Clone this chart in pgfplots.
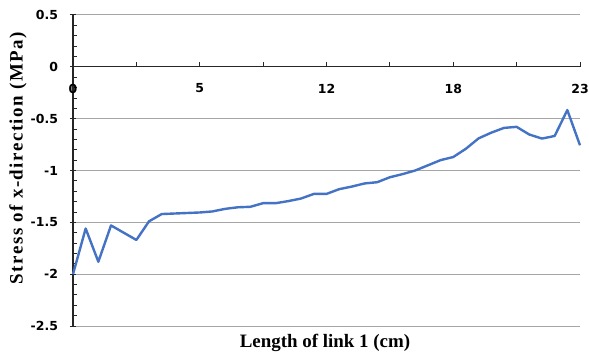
\documentclass[border=0pt]{standalone}
\usepackage{fontspec}
\setmainfont{Liberation Serif}
\newfontfamily\tickfont{DejaVu Sans}
\newfontfamily\spacedserif[LetterSpace=8]{Liberation Serif}
\usepackage{pgfplots}
\pgfplotsset{compat=1.18}

\definecolor{serieblue}{HTML}{4472C4}
\definecolor{gridgray}{HTML}{A6A6A6}
\definecolor{axisdark}{HTML}{262626}

% stress along link 1, sampled at 41 equally spaced stations
\pgfplotstableread{
i   s
0   -2.00
1   -1.56
2   -1.88
3   -1.53
4   -1.60
5   -1.67
6   -1.49
7   -1.42
8   -1.415
9   -1.41
10  -1.405
11  -1.395
12  -1.37
13  -1.355
14  -1.35
15  -1.315
16  -1.315
17  -1.295
18  -1.27
19  -1.226
20  -1.226
21  -1.18
22  -1.155
23  -1.125
24  -1.113
25  -1.065
26  -1.035
27  -1.00
28  -0.95
29  -0.90
30  -0.87
31  -0.79
32  -0.69
33  -0.635
34  -0.589
35  -0.579
36  -0.653
37  -0.692
38  -0.667
39  -0.417
40  -0.757
}\stressdata

\begin{document}
\begin{tikzpicture}
\path[use as bounding box] (-73bp,-29bp) rectangle (516bp,326bp);
\begin{axis}[
  at={(0,0)}, anchor=south west,
  scale only axis, width=507bp, height=311bp,
  xmin=0, xmax=40, ymin=-2.5, ymax=0.5,
  axis x line=middle, axis y line=left,
  axis line style={-, axisdark, line width=1.1bp},
  hide obscured x ticks=false,
  xtick={0,5,...,40},
  xticklabels={0,,5,,12,,18,,23},
  ytick={-2.5,-2,...,0.5},
  yticklabels={-2.5,-2,-1.5,-1,-0.5,0,0.5},
  minor y tick num=4,
  ymajorgrids,
  grid style={gridgray, line width=1bp},
  major tick length=5bp, minor tick length=4bp,
  major y tick style={line width=0bp},
  tick style={axisdark, line width=0.8bp},
  x tick style={yshift=2.5bp},
  minor y tick style={xshift=2bp},
  tick align=center,
  xticklabel style={font=\tickfont\bfseries\fontsize{12.5}{14}\selectfont, yshift=-11bp},
  yticklabel style={font=\tickfont\bfseries\fontsize{12.5}{14}\selectfont, xshift=-9bp},
  xlabel={Length of link 1 (cm)},
  ylabel={Stress of x-direction (MPa)},
  xlabel style={font=\bfseries\fontsize{19}{22}\selectfont, at={(rel axis cs:0.497,-0.0547)}, anchor=center},
  ylabel style={font=\spacedserif\bfseries\fontsize{19}{22}\selectfont, at={(rel axis cs:-0.1085,0.54)}, anchor=center},
  clip=false,
]
\addplot[serieblue, line width=2.4bp, line join=round] table[x=i, y=s] {\stressdata};
\end{axis}
\end{tikzpicture}
\end{document}
